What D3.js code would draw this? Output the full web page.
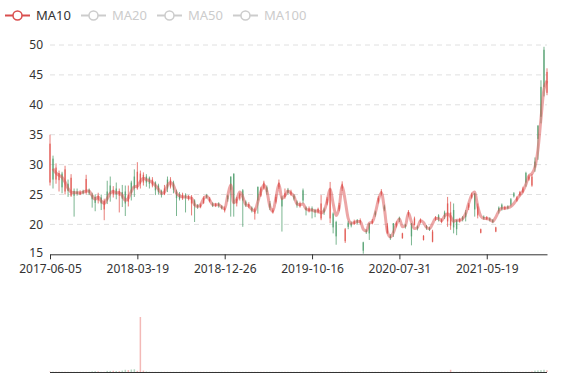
<!DOCTYPE html>
<html><head><meta charset="utf-8">
<script src="https://cdn.jsdelivr.net/npm/d3@7"></script>
<style>body{margin:0;background:#fff;} svg{display:block;font-family:"Noto Sans",sans-serif;}</style>
</head><body><svg id="c" width="577" height="380"></svg>
<script>
const dates = [
"2017-06-05","2017-06-15","2017-06-25","2017-07-05","2017-07-15","2017-07-25","2017-08-04","2017-08-14","2017-08-24","2017-09-03",
"2017-09-13","2017-09-23","2017-10-03","2017-10-13","2017-10-23","2017-11-02","2017-11-12","2017-11-22","2017-12-02","2017-12-12",
"2017-12-22","2018-01-01","2018-01-11","2018-01-21","2018-01-31","2018-02-10","2018-02-20","2018-03-02","2018-03-12","2018-03-19",
"2018-04-01","2018-04-11","2018-04-21","2018-05-01","2018-05-11","2018-05-21","2018-05-31","2018-06-10","2018-06-20","2018-06-30",
"2018-07-10","2018-07-20","2018-07-30","2018-08-09","2018-08-19","2018-08-29","2018-09-08","2018-09-18","2018-09-28","2018-10-08",
"2018-10-18","2018-10-28","2018-11-07","2018-11-17","2018-11-27","2018-12-06","2018-12-11","2018-12-18","2018-12-26","2019-01-10",
"2019-01-26","2019-02-05","2019-02-15","2019-02-25","2019-03-07","2019-03-17","2019-03-27","2019-04-06","2019-04-16","2019-04-26",
"2019-05-06","2019-05-16","2019-05-26","2019-06-05","2019-06-15","2019-06-25","2019-07-05","2019-07-15","2019-07-25","2019-08-04",
"2019-08-14","2019-08-24","2019-09-03","2019-09-13","2019-09-23","2019-09-30","2019-10-09","2019-10-16","2019-11-02","2019-11-12",
"2019-11-22","2019-12-02","2019-12-12","2019-12-22","2020-01-01","2020-01-11","2020-01-21","2020-01-31","2020-02-10","2020-02-20",
"2020-03-01","2020-03-11","2020-03-21","2020-03-31","2020-04-10","2020-04-20","2020-04-30","2020-05-10","2020-05-20","2020-05-30",
"2020-06-09","2020-06-19","2020-06-29","2020-07-09","2020-07-17","2020-07-24","2020-07-31","2020-08-18","2020-08-28","2020-09-07",
"2020-09-17","2020-09-27","2020-10-07","2020-10-17","2020-10-27","2020-11-06","2020-11-16","2020-11-26","2020-12-06","2020-12-16",
"2020-12-26","2021-01-05","2021-01-15","2021-01-25","2021-02-04","2021-02-14","2021-02-24","2021-03-06","2021-03-16","2021-03-26",
"2021-04-05","2021-04-15","2021-04-25","2021-05-05","2021-05-11","2021-05-19","2021-06-04","2021-06-14","2021-06-24","2021-07-04",
"2021-07-14","2021-07-24","2021-08-03","2021-08-13","2021-08-23","2021-09-02","2021-09-12","2021-09-22","2021-10-02","2021-10-12",
"2021-10-22","2021-11-01","2021-11-11","2021-11-21","2021-12-01","2021-12-06"];

const open = [27.0,31.0,27.5,27.4,28.5,25.5,26.8,24.8,25.6,25.5,
25.0,25.6,25.3,25.8,25.0,24.6,24.0,24.5,22.5,25.5,
26.5,25.0,26.0,24.8,25.4,25.5,23.8,27.0,28.0,26.0,
26.8,27.0,28.0,27.8,26.5,27.0,26.5,25.6,25.0,27.5,
26.3,27.0,25.5,25.0,24.4,24.9,24.3,23.5,24.0,23.2,
22.9,23.6,24.9,23.9,23.5,23.1,23.5,23.0,22.3,24.8,
28.0,28.5,23.5,24.3,25.7,23.8,23.0,22.8,21.8,26.3,
24.8,26.0,26.2,23.5,22.0,23.8,26.2,24.5,24.6,25.8,
25.0,24.8,23.8,23.0,25.7,22.8,22.2,22.7,22.4,22.0,
21.0,22.5,23.5,21.0,21.8,20.4,22.5,26.0,17.2,20.3,
20.2,20.1,20.7,20.3,17.0,19.0,20.2,20.2,22.0,23.8,
25.0,23.0,18.6,18.1,20.2,19.8,21.1,17.7,19.9,21.6,
20.2,19.9,19.6,20.4,17.4,19.7,19.4,17.1,20.8,21.5,
20.4,22.0,20.5,19.8,22.4,20.7,20.5,21.2,22.0,22.8,
24.5,25.2,21.5,18.6,21.3,20.9,21.0,20.7,18.8,22.8,
23.3,22.6,23.0,24.2,25.2,24.0,24.9,25.4,28.6,27.5,
26.5,30.5,36.5,43.0,49.2,42.0];

const close = [33.5,27.5,29.5,28.6,26.2,29.2,25.6,27.8,24.8,25.1,
25.4,25.2,27.6,25.2,24.2,23.6,24.8,23.5,24.0,24.0,
25.0,25.8,25.0,25.6,24.3,23.5,25.0,25.2,26.0,28.8,
28.5,28.3,27.0,26.8,27.5,25.7,25.4,24.9,26.0,26.0,
27.5,25.8,24.4,24.3,25.0,24.4,24.7,24.6,23.1,22.9,
23.2,24.4,24.5,24.3,23.1,23.4,23.1,22.7,22.7,24.2,
25.8,23.5,24.3,25.0,24.0,23.2,23.4,22.3,22.5,24.0,
26.0,27.0,25.4,22.8,22.4,24.6,27.0,23.0,25.2,25.3,
25.5,24.3,23.2,23.5,24.0,22.4,22.7,22.2,22.0,22.6,
23.5,22.0,24.3,26.0,19.5,18.0,23.2,26.8,19.2,19.6,
19.8,20.5,20.3,20.7,15.6,18.7,18.5,20.6,21.6,24.4,
25.6,22.5,19.8,17.7,18.6,20.2,20.7,18.5,19.6,22.1,
18.0,21.0,19.3,20.8,18.1,19.4,19.1,18.8,21.2,20.9,
20.8,21.3,23.5,22.0,19.5,19.2,20.9,20.8,21.2,23.3,
25.0,22.5,23.0,19.2,21.0,21.2,20.7,20.4,19.5,22.2,
22.6,22.9,22.7,23.3,24.7,24.5,25.4,26.0,27.0,28.0,
28.0,29.5,34.3,38.0,43.0,45.5];

const low = [26.5,26.0,26.8,25.5,25.2,25.0,24.6,24.6,21.3,24.8,
24.9,25.0,25.0,24.9,22.8,22.2,23.5,22.4,20.7,23.4,
23.8,24.5,24.2,22.0,22.9,21.4,23.0,24.0,24.6,25.8,
26.0,26.5,26.3,26.0,26.2,24.9,25.0,24.5,24.9,25.4,
26.0,25.2,21.4,24.0,24.1,22.0,24.0,21.5,20.4,22.6,
22.7,23.4,24.3,23.7,22.9,22.9,22.8,22.5,22.0,23.8,
21.3,21.3,23.0,24.0,19.6,22.9,22.7,22.0,20.8,21.8,
24.6,25.8,25.0,22.4,21.8,23.5,25.9,18.8,24.3,25.0,
24.8,24.0,22.8,22.8,23.5,21.5,22.0,21.0,21.2,21.8,
20.7,21.6,23.2,20.2,18.5,16.6,22.2,25.6,16.9,19.2,
19.5,19.9,20.0,20.0,15.1,18.4,17.4,20.0,21.3,23.5,
24.8,22.2,18.4,17.4,17.9,19.5,20.4,17.6,19.3,21.3,
16.5,19.8,19.0,20.2,17.3,19.1,18.9,17.0,20.6,20.5,
20.2,20.9,19.6,19.1,18.5,18.2,20.3,20.5,20.5,22.4,
24.3,21.3,21.0,18.5,20.8,20.7,20.5,20.2,18.7,21.8,
22.3,22.4,22.5,23.0,24.5,23.8,24.7,25.2,26.3,27.3,
26.3,28.8,30.8,36.9,41.4,41.6];

const high = [35.0,31.5,30.2,29.0,28.8,29.8,27.5,28.4,26.0,26.0,
25.7,25.8,28.3,26.0,25.3,25.0,25.3,25.0,24.3,27.3,
28.0,26.4,27.0,26.0,26.6,26.5,26.5,27.3,29.2,30.4,
29.0,28.7,28.4,28.0,27.9,27.2,26.8,25.8,26.6,28.0,
27.9,27.3,25.8,25.4,25.3,25.2,24.9,24.9,24.2,23.4,
23.5,24.7,25.1,24.6,23.7,23.6,23.7,23.2,23.0,25.0,
28.0,28.5,24.6,25.3,25.9,24.0,23.7,23.0,22.8,26.3,
26.3,27.3,26.5,23.9,22.7,25.0,27.5,24.8,26.0,26.1,
25.8,25.0,24.0,23.8,26.0,23.0,23.0,23.0,22.6,22.8,
24.9,22.8,24.6,27.1,22.0,20.6,23.6,27.2,19.4,20.6,
20.5,20.8,20.9,21.0,17.1,19.2,20.2,20.9,22.3,24.7,
25.9,23.3,20.2,18.4,20.2,20.5,21.3,18.6,20.1,22.4,
20.2,21.3,19.8,21.0,18.2,19.9,19.6,19.1,21.4,21.7,
21.0,22.3,24.6,23.8,23.5,20.8,21.1,21.4,22.4,23.6,
25.3,25.2,23.5,19.3,21.5,21.4,21.2,20.9,19.6,23.0,
23.5,23.1,23.2,24.4,25.4,24.7,25.6,26.3,28.8,28.3,
28.4,31.2,36.6,44.1,49.7,46.1];

const ma10 = [null,29.3,28.6,28.2,27.9,27.1,26.0,25.4,25.3,25.3,
25.3,25.4,25.6,25.6,24.8,24.2,24.6,23.9,23.5,24.3,
25.2,25.5,25.3,25.3,24.8,24.0,24.4,25.5,26.3,26.4,
27.2,27.7,27.5,27.3,27.0,26.5,25.9,25.2,25.4,26.5,
27.0,26.5,25.2,24.8,24.6,24.6,24.5,24.4,23.3,23.0,
23.3,24.3,24.7,24.1,23.3,23.3,23.3,22.9,22.6,24.8,
26.6,23.6,24.2,25.4,24.6,23.3,23.1,22.5,22.3,23.8,
25.5,26.6,25.6,23.0,22.2,24.4,26.7,24.3,24.8,25.6,
25.2,24.7,23.4,23.3,23.4,22.6,22.4,22.4,22.2,22.3,
21.9,22.3,23.9,25.9,23.5,21.5,22.8,26.4,24.0,21.0,
20.2,20.3,20.5,20.5,19.2,18.9,20.2,20.4,21.9,24.0,
25.3,22.7,18.8,17.9,18.6,20.0,20.9,19.6,19.8,21.9,
20.4,19.3,19.5,20.6,20.3,19.5,19.3,20.1,21.0,21.0,
20.6,21.4,21.8,21.3,20.5,20.7,20.7,21.0,21.8,23.5,
24.9,25.4,23.0,21.4,21.0,21.0,20.8,20.5,21.2,22.2,
22.7,22.7,22.8,23.0,23.5,24.2,24.9,25.6,26.7,28.1,
28.5,29.6,32.5,37.7,42.6,44.0];

const volume = [8,6,5,5,4,4,3,3,3,3,
3,3,3,3,12,15,12,3,3,20,
20,22,18,15,25,40,35,45,50,20,
1000,25,10,5,3,3,3,3,3,3,
3,3,3,3,3,3,3,3,3,3,
3,3,3,3,3,3,3,3,3,3,
3,3,3,3,3,3,3,3,3,3,
3,3,3,3,3,3,3,3,3,3,
3,3,3,3,3,3,3,3,3,3,
3,3,3,3,3,3,3,3,3,3,
3,3,3,3,3,3,3,3,3,3,
3,3,3,3,3,3,3,3,3,3,
3,3,3,3,3,3,3,3,3,3,
3,3,3,40,3,3,3,3,3,3,
3,3,3,3,3,3,3,3,3,3,
3,3,3,3,3,3,3,3,3,3,
10,25,30,35,40,30];

const tickLabels = ["2017-06-05","2018-03-19","2018-12-26","2019-10-16","2020-07-31","2021-05-19"];
const yTicks = [15,20,25,30,35,40,45,50];
const legendNames = ["MA10","MA20","MA50","MA100"];
const legendActive = [true,false,false,false];

const UP = "#e0514b", DOWN = "#4f9e6c", MA = "#d94e4e";
const svg = d3.select("#c");
const x = d3.scalePoint().domain(dates).range([50, 547]);
const y = d3.scaleLinear().domain([15, 50]).range([254.3, 45]);
const yv = d3.scaleLinear().domain([0, d3.max(volume)]).range([372, 317]);

// grid
svg.append("g").selectAll("line").data(yTicks.filter(t => t > 15)).join("line")
  .attr("x1", 50).attr("x2", 547).attr("y1", d => y(d)).attr("y2", d => y(d))
  .attr("stroke", "#e0e0e0").attr("stroke-width", 1).attr("stroke-dasharray", "5,4");

// y labels
const ga = svg.append("g").attr("transform", "translate(50,0)")
  .call(d3.axisLeft(y).tickValues(yTicks).tickSize(0).tickPadding(7));
ga.select(".domain").remove();
ga.selectAll("text").attr("fill", "#333").style("font-size", "12px").style("font-family", "Noto Sans");
ga.selectAll(".tick").filter(d => d === 15).select("text").attr("dy", "0.2em");

// x axis
const gx = svg.append("g").attr("transform", "translate(0,254.3)")
  .call(d3.axisBottom(x).tickValues(tickLabels).tickSize(5).tickSizeOuter(0).tickPadding(5));
gx.select(".domain").attr("stroke", "#333");
gx.selectAll(".tick line").attr("stroke", "#333");
gx.selectAll("text").attr("fill", "#333").style("font-size", "12px").style("font-family", "Noto Sans");

const idx = d3.range(dates.length);
const col = i => close[i] >= open[i] ? UP : DOWN;

// candles
const cg = svg.append("g");
cg.selectAll("line").data(idx).join("line")
  .attr("x1", i => x(dates[i])).attr("x2", i => x(dates[i]))
  .attr("y1", i => y(high[i])).attr("y2", i => y(low[i]))
  .attr("stroke", col).attr("stroke-width", 1).attr("stroke-opacity", 0.75);
cg.selectAll("rect").data(idx).join("rect")
  .attr("x", i => x(dates[i]) - 0.7).attr("width", 1.4)
  .attr("y", i => y(Math.max(open[i], close[i])))
  .attr("height", i => Math.max(0.6, Math.abs(y(open[i]) - y(close[i]))))
  .attr("fill", col).attr("fill-opacity", 0.75);

// MA10 line
const line = d3.line().defined(i => ma10[i] != null)
  .x(i => x(dates[i])).y(i => y(ma10[i])).curve(d3.curveMonotoneX);
svg.append("path").attr("d", line(idx)).attr("fill", "none")
  .attr("stroke", MA).attr("stroke-width", 3).attr("stroke-opacity", 0.5)
  .attr("stroke-linejoin", "round");

// volume
svg.append("g").selectAll("rect").data(idx).join("rect")
  .attr("x", i => x(dates[i]) - 0.75).attr("width", 1.5)
  .attr("y", i => yv(volume[i])).attr("height", i => 372 - yv(volume[i]))
  .attr("fill", col).attr("fill-opacity", 0.4);
svg.append("line").attr("x1", 50).attr("x2", 547).attr("y1", 372.5).attr("y2", 372.5)
  .attr("stroke", "#333").attr("stroke-width", 1);

// legend
let cx = 5;
const lg = svg.append("g");
legendNames.forEach((n, k) => {
  const c = legendActive[k] ? MA : "#ccc";
  lg.append("line").attr("x1", cx).attr("x2", cx + 25).attr("y1", 15.5).attr("y2", 15.5)
    .attr("stroke", c).attr("stroke-width", 2);
  lg.append("circle").attr("cx", cx + 12.5).attr("cy", 15.5).attr("r", 4.5)
    .attr("fill", "#fff").attr("stroke", c).attr("stroke-width", 1.5);
  const t = lg.append("text").attr("x", cx + 31).attr("y", 20).text(n)
    .attr("fill", legendActive[k] ? "#333" : "#ccc").style("font-size", "13px");
  cx = cx + 31 + t.node().getComputedTextLength() + 10;
});
</script></body></html>
